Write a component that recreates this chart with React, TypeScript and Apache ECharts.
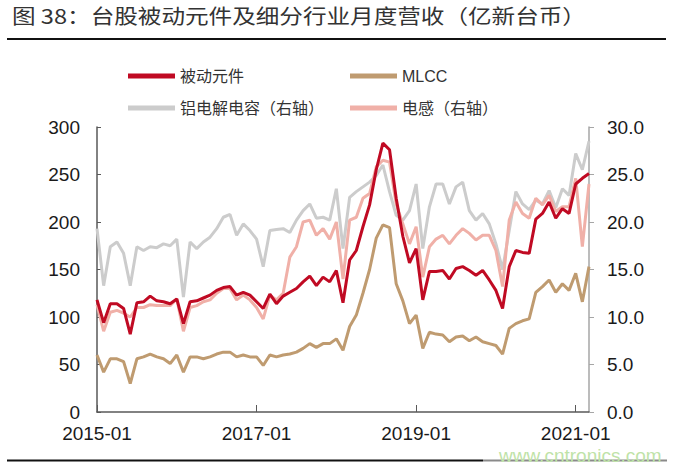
import React, { useEffect, useRef } from "react";
import * as echarts from "echarts";

// Monthly categories 2015-01 .. 2021-03
const months: string[] = [];
for (let y = 2015; y <= 2021; y++) {
  for (let m = 1; m <= 12; m++) {
    if (y === 2021 && m > 3) break;
    months.push(`${y}-${String(m).padStart(2, "0")}`);
  }
}

const seriesNames = ["被动元件", "MLCC", "铝电解电容（右轴）", "电感（右轴）"];

// 被动元件 (left axis)
const passive = [
  118, 94, 114, 114, 109, 82, 115, 116, 122, 117, 116, 114,
  119, 93, 116, 117, 120, 123, 128, 131, 132, 123, 126, 123,
  116, 109, 124, 114, 122, 126, 130, 137, 143, 133, 142, 137,
  149, 115, 160, 170, 195, 218, 255, 283, 276, 225, 185, 157,
  172, 118, 148, 148, 149, 140, 151, 153, 149, 144, 149, 139,
  128, 109, 153, 170, 168, 167, 203, 209, 221, 204, 214, 209,
  240, 246, 251,
];

// MLCC (left axis)
const mlcc = [
  60, 42, 56, 56, 53, 30, 56, 58, 61, 58, 56, 51,
  60, 42, 58, 58, 56, 58, 61, 63, 63, 58, 60, 58,
  58, 49, 60, 58, 60, 61, 63, 67, 72, 68, 72, 72,
  77, 65, 90, 102, 125, 150, 183, 197, 194, 135, 117, 93,
  102, 67, 84, 82, 81, 74, 79, 80, 75, 79, 74, 72,
  70, 61, 88, 93, 96, 98, 126, 132, 139, 126, 135, 128,
  146, 116, 153,
];

// 铝电解电容 (right axis)
const aluCap = [
  19.3, 13.3, 17.4, 17.9, 16.7, 13.3, 17.4, 17.0, 17.4, 17.3, 17.7, 17.5,
  18.2, 12.1, 17.9, 17.2, 17.9, 18.4, 19.3, 20.5, 20.8, 18.6, 19.8, 19.1,
  18.2, 15.3, 19.1, 19.2, 19.3, 18.9, 20.2, 21.2, 21.9, 20.4, 20.5, 20.2,
  23.5, 17.2, 22.6, 23.2, 23.7, 24.2, 24.9, 26.0, 23.2, 20.7, 20.2, 21.2,
  24.0, 17.2, 21.6, 24.0, 24.0, 21.9, 23.7, 24.2, 21.2, 20.2, 20.9, 19.8,
  17.7, 15.0, 19.1, 23.2, 21.9, 21.3, 22.3, 21.9, 23.3, 21.5, 23.5, 22.8,
  27.2, 25.5, 28.5,
];

// 电感 (right axis)
const inductor = [
  11.3, 8.5, 10.5, 10.7, 10.4, 10.0, 11.0, 11.0, 11.3, 11.2, 11.2, 11.2,
  11.9, 8.5, 11.0, 11.2, 11.6, 11.8, 12.5, 13.0, 13.0, 11.8, 12.3, 11.8,
  11.0, 9.8, 12.3, 11.8, 12.5, 16.3, 17.4, 20.0, 20.2, 18.6, 19.3, 18.2,
  20.0, 14.0, 20.2, 20.5, 22.5, 23.0, 25.8, 26.5, 26.3, 21.9, 19.8, 17.7,
  19.5, 14.2, 17.4, 18.2, 18.6, 17.7, 18.6, 19.3, 18.8, 18.1, 18.6, 18.6,
  17.0, 13.2, 20.2, 22.1, 20.9, 20.4, 22.5, 21.8, 22.8, 21.1, 21.6, 21.6,
  24.6, 17.4, 24.0,
];

const leftTicks = { min: 0, max: 300, interval: 50 };
const rightTicks = { min: 0, max: 30, interval: 5 };

const titleText = "图 38：台股被动元件及细分行业月度营收（亿新台币）";
const watermark = "www.cntronics.com";

export default function App() {
  const ref = useRef<HTMLDivElement>(null);
  useEffect(() => {
    if (!ref.current) return;
    const chart = echarts.init(ref.current, undefined, { renderer: "svg" });
    const latin = "'Liberation Sans', Arial, 'Noto Sans CJK SC'";
    const cjk = "'Noto Sans CJK SC', 'Liberation Sans'";
    const legendCommon = {
      icon: "rect",
      itemWidth: 47,
      itemHeight: 5,
      padding: 0,
      itemGap: 0,
      selectedMode: false,
      textStyle: { fontSize: 16, color: "#333", fontFamily: latin },
    };
    const colors = ["#C00A23", "#BF9B70", "#CCCCCC", "#F0B0A8"];
    chart.setOption({
      animation: false,
      backgroundColor: "#ffffff",
      color: colors,
      grid: { left: 97, right: 94, top: 127, bottom: 56, containLabel: false },
      legend: [
        { ...legendCommon, data: [seriesNames[0]], left: 128, top: 68 },
        { ...legendCommon, data: [seriesNames[1]], left: 350, top: 68 },
        { ...legendCommon, data: [seriesNames[2]], left: 128, top: 100 },
        { ...legendCommon, data: [seriesNames[3]], left: 350, top: 100 },
      ],
      xAxis: {
        type: "category",
        data: months,
        boundaryGap: false,
        axisLine: { lineStyle: { color: "#595959", width: 1.5 } },
        axisTick: { show: true, inside: true, length: 7, interval: 23, lineStyle: { color: "#595959" } },
        axisLabel: { interval: 23, margin: 12, fontSize: 19, color: "#1a1a1a", fontFamily: latin },
        splitLine: { show: false },
      },
      yAxis: [
        {
          type: "value",
          ...leftTicks,
          position: "left",
          splitLine: { show: false },
          axisLine: { show: true, lineStyle: { color: "#595959", width: 1.5 } },
          axisTick: { show: true, inside: true, length: 4, lineStyle: { color: "#595959" } },
          axisLabel: { margin: 17, fontSize: 19, color: "#1a1a1a", fontFamily: latin },
        },
        {
          type: "value",
          ...rightTicks,
          position: "right",
          splitLine: { show: false },
          axisLine: { show: true, lineStyle: { color: "#A6A6A6", width: 1.5 } },
          axisTick: { show: true, inside: false, length: 5, lineStyle: { color: "#A6A6A6" } },
          axisLabel: {
            margin: 18,
            fontSize: 19,
            color: "#1a1a1a",
            fontFamily: latin,
            formatter: (v: number) => v.toFixed(1),
          },
        },
      ],
      series: [
        {
          name: seriesNames[0],
          type: "line",
          data: passive,
          yAxisIndex: 0,
          symbol: "none",
          z: 5,
          lineStyle: { width: 3, color: colors[0] },
          itemStyle: { color: colors[0] },
        },
        {
          name: seriesNames[1],
          type: "line",
          data: mlcc,
          yAxisIndex: 0,
          symbol: "none",
          z: 4,
          lineStyle: { width: 3, color: colors[1] },
          itemStyle: { color: colors[1] },
        },
        {
          name: seriesNames[2],
          type: "line",
          data: aluCap,
          yAxisIndex: 1,
          symbol: "none",
          z: 2,
          lineStyle: { width: 3, color: colors[2] },
          itemStyle: { color: colors[2] },
        },
        {
          name: seriesNames[3],
          type: "line",
          data: inductor,
          yAxisIndex: 1,
          symbol: "none",
          z: 3,
          lineStyle: { width: 3, color: colors[3] },
          itemStyle: { color: colors[3] },
        },
      ],
      graphic: [
        {
          type: "text",
          x: 12,
          y: 15,
          scaleX: 1.18,
          style: {
            text: titleText,
            fontSize: 20,
            fontFamily: cjk,
            fill: "#333333",
            verticalAlign: "middle",
          },
        },
        {
          type: "line",
          shape: { x1: 7, y1: 39, x2: 666, y2: 39 },
          style: { stroke: "#111111", lineWidth: 2 },
        },
        {
          type: "line",
          shape: { x1: 7, y1: 460.5, x2: 483, y2: 460.5 },
          style: { stroke: "#111111", lineWidth: 2 },
        },
        {
          type: "line",
          shape: { x1: 483, y1: 460.5, x2: 667, y2: 460.5 },
          style: { stroke: "#8a8a8a", lineWidth: 2 },
        },
        {
          type: "text",
          x: 499,
          y: 455,
          z: 100,
          style: {
            text: watermark,
            fontSize: 19,
            fontFamily: latin,
            fill: "#bfe3a8",
            verticalAlign: "middle",
          },
        },
      ],
    });
    return () => chart.dispose();
  }, []);
  return (
    <div
      ref={ref}
      style={{ position: "fixed", left: 0, top: 0, width: 683, height: 468, background: "#fff" }}
    />
  );
}
